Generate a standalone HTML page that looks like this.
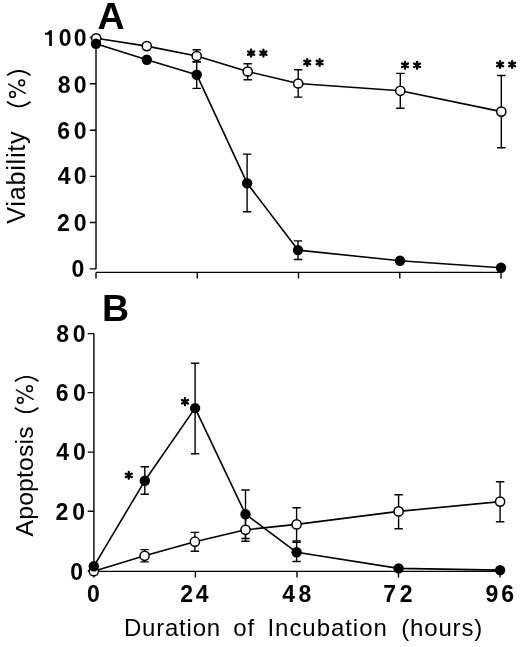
<!DOCTYPE html>
<html><head><meta charset="utf-8"><style>
html,body{margin:0;padding:0;background:#fff;width:520px;height:647px;overflow:hidden;font-family:"Liberation Sans",sans-serif;}
svg{display:block;filter:grayscale(100%)}
</style></head><body>
<svg width="520" height="647" viewBox="0 0 520 647">
<g font-family="Liberation Sans" fill="#000">
<text x="97.55" y="28.78" font-size="37.6" font-weight="bold">A</text>
<text x="102.06" y="321" font-size="37.5" font-weight="bold">B</text>
<path d="M49.2 46.1V34.7H45V32.8C47 32.8 48.8 31.8 49.3 30.2H51.9V46.1Z"/>
<text x="58.69" y="46.12" font-size="23" font-weight="bold" letter-spacing="2.27">00</text>
<text x="57.77" y="93.22" font-size="23" font-weight="bold" letter-spacing="3.19">80</text>
<text x="57.26" y="138.67" font-size="23" font-weight="bold" letter-spacing="3.8">60</text>
<text x="57.75" y="184.47" font-size="23" font-weight="bold" letter-spacing="3.31">40</text>
<text x="57" y="230.92" font-size="23" font-weight="bold" letter-spacing="4.06">20</text>
<text x="71.47" y="277.32" font-size="23" font-weight="bold">0</text>
<text x="56.37" y="341.92" font-size="23" font-weight="bold" letter-spacing="3.49">80</text>
<text x="55.86" y="401.32" font-size="23" font-weight="bold" letter-spacing="4.3">60</text>
<text x="56.35" y="460.32" font-size="23" font-weight="bold" letter-spacing="3.81">40</text>
<text x="55.5" y="520.07" font-size="23" font-weight="bold" letter-spacing="3.96">20</text>
<text x="70.22" y="579.87" font-size="23" font-weight="bold">0</text>
<text x="86.92" y="601.77" font-size="23" font-weight="bold">0</text>
<text x="180.3" y="602.03" font-size="23" font-weight="bold" letter-spacing="2.74">24</text>
<text x="282.15" y="602.17" font-size="23" font-weight="bold" letter-spacing="3.57">48</text>
<text x="383.21" y="602.23" font-size="23" font-weight="bold" letter-spacing="3.83">72</text>
<text x="485.5" y="602.27" font-size="23" font-weight="bold" letter-spacing="2.95">96</text>
<text x="124.03" y="636" font-size="24" letter-spacing="0.77">Duration</text>
<text x="233.19" y="636" font-size="24" letter-spacing="1.06">of</text>
<text x="267.49" y="636" font-size="24" letter-spacing="0.95">Incubation</text>
<text x="401.21" y="636" font-size="24" letter-spacing="0.84">(hours)</text>
<text transform="translate(24.9,223.81) rotate(-90)" font-size="25.2" letter-spacing="0.77">Viability</text>
<text transform="translate(33.2,536.45) rotate(-90)" font-size="24.7" letter-spacing="0.2">Apoptosis</text>
</g>
<g transform="translate(0,0)" fill="none" stroke="#000"><path d="M7.1 75.4Q19 66.6 30.5 75.4M7.1 101.8Q19 110.8 30.5 101.8" stroke-width="1.8"/><path d="M8.1 83.8L25.8 93.7" stroke-width="1.4"/><circle cx="21.7" cy="82.8" r="2.85" stroke-width="1.5"/><circle cx="12.5" cy="94.4" r="2.85" stroke-width="1.5"/></g>
<g transform="translate(7.8,305.9)" fill="none" stroke="#000"><path d="M7.1 75.4Q19 66.6 30.5 75.4M7.1 101.8Q19 110.8 30.5 101.8" stroke-width="1.8"/><path d="M8.1 83.8L25.8 93.7" stroke-width="1.4"/><circle cx="21.7" cy="82.8" r="2.85" stroke-width="1.5"/><circle cx="12.5" cy="94.4" r="2.85" stroke-width="1.5"/></g>
<g fill="none" stroke="#000" stroke-width="1.4">
<path d="M96 37.5V268.9M89.8 37.5H96M89.8 83.7H96M89.8 130.2H96M89.8 176.4H96M89.8 222.5H96M89.8 268.9H96"/>
<path d="M96 272.4H501M96 272.4V278.6M197.3 272.4V278.6M298.5 272.4V278.6M399.8 272.4V278.6M501 272.4V278.6"/>
<path d="M93.9 333.6V571.4M87.7 333.6H93.9M87.7 392.6H93.9M87.7 452.1H93.9M87.7 511.3H93.9M87.7 570.8H93.9"/>
<path d="M93.9 571.4H500.1M93.9 571.4V577.6M195.4 571.4V577.6M297 571.4V577.6M398.5 571.4V577.6M500.1 571.4V577.6"/>
</g>
<g fill="none" stroke="#000" stroke-width="1.4">
<path d="M196.7 49.8V61.7M192.5 49.8H200.9M192.5 61.7H200.9"/><path d="M247.7 63.8V79.7M243.5 63.8H251.9M243.5 79.7H251.9"/><path d="M298.2 69.8V97.1M294 69.8H302.4M294 97.1H302.4"/><path d="M400.3 73.4V108.2M396.1 73.4H404.5M396.1 108.2H404.5"/><path d="M501.3 75.5V147.8M497.1 75.5H505.5M497.1 147.8H505.5"/><path d="M196.7 61.7V88.4M192.5 61.7H200.9M192.5 88.4H200.9"/><path d="M247.1 154.1V211.7M242.9 154.1H251.3M242.9 211.7H251.3"/><path d="M298 240.9V259.5M293.8 240.9H302.2M293.8 259.5H302.2"/><path d="M144.6 549.6V561.9M140.4 549.6H148.8M140.4 561.9H148.8"/><path d="M194.9 532.4V551.2M190.7 532.4H199.1M190.7 551.2H199.1"/><path d="M245.5 516V541.2M241.3 516H249.7M241.3 541.2H249.7"/><path d="M296.6 507.8V541M292.4 507.8H300.8M292.4 541H300.8"/><path d="M398.6 494.7V528.7M394.4 494.7H402.8M394.4 528.7H402.8"/><path d="M500.1 481.7V521.7M495.9 481.7H504.3M495.9 521.7H504.3"/><path d="M144.8 466.7V494.2M140.6 466.7H149M140.6 494.2H149"/><path d="M195.1 363.2V453.8M190.9 363.2H199.3M190.9 453.8H199.3"/><path d="M245.5 490V538.5M241.3 490H249.7M241.3 538.5H249.7"/><path d="M296.6 542.4V561.5M292.4 542.4H300.8M292.4 561.5H300.8"/>
</g>
<g fill="none" stroke="#000" stroke-width="1.6" stroke-linejoin="round">
<polyline points="96.2,38.3 146.8,46.1 196.7,56 247.7,71.5 298.2,83.5 400.3,90.8 501.3,111.6"/><polyline points="96,43.8 146.8,59.8 196.7,74.7 247.1,183.2 298,250.1 400,260.8 501,267.7"/><polyline points="93.8,571.2 144.6,555.8 194.9,541.7 245.5,529.8 296.6,524.4 398.6,511.4 500.1,501.6"/><polyline points="93.8,566.3 144.8,480.8 195.1,408.1 245.5,514.2 296.6,552.3 398.6,568.4 500.1,570.1"/>
</g>
<g fill="#fff" stroke="#000" stroke-width="1.5">
<circle cx="96.2" cy="38.3" r="4.6"/><circle cx="146.8" cy="46.1" r="4.6"/><circle cx="196.7" cy="56" r="4.6"/><circle cx="247.7" cy="71.5" r="4.6"/><circle cx="298.2" cy="83.5" r="4.6"/><circle cx="400.3" cy="90.8" r="4.6"/><circle cx="501.3" cy="111.6" r="4.6"/><circle cx="93.8" cy="571.2" r="4.6"/><circle cx="144.6" cy="555.8" r="4.6"/><circle cx="194.9" cy="541.7" r="4.6"/><circle cx="245.5" cy="529.8" r="4.6"/><circle cx="296.6" cy="524.4" r="4.6"/><circle cx="398.6" cy="511.4" r="4.6"/><circle cx="500.1" cy="501.6" r="4.6"/>
</g>
<g fill="#000">
<circle cx="96" cy="43.8" r="5.2"/><circle cx="146.8" cy="59.8" r="5.2"/><circle cx="196.7" cy="74.7" r="5.2"/><circle cx="247.1" cy="183.2" r="5.2"/><circle cx="298" cy="250.1" r="5.2"/><circle cx="400" cy="260.8" r="5.2"/><circle cx="501" cy="267.7" r="5.2"/><circle cx="93.8" cy="566.3" r="5.2"/><circle cx="144.8" cy="480.8" r="5.2"/><circle cx="195.1" cy="408.1" r="5.2"/><circle cx="245.5" cy="514.2" r="5.2"/><circle cx="296.6" cy="552.3" r="5.2"/><circle cx="398.6" cy="568.4" r="5.2"/><circle cx="500.1" cy="570.1" r="5.2"/>
</g>
<g fill="none" stroke="#000" stroke-width="2.3" stroke-linecap="round">
<path d="M251.1 49.65L251.1 56.55M248.11 51.38L254.09 54.83M254.09 51.38L248.11 54.83"/><circle cx="251.1" cy="53.1" r="1.7" fill="#000" stroke="none"/>
<path d="M263.4 49.65L263.4 56.55M260.41 51.38L266.39 54.83M266.39 51.38L260.41 54.83"/><circle cx="263.4" cy="53.1" r="1.7" fill="#000" stroke="none"/>
<path d="M307.2 59.05L307.2 65.95M304.21 60.77L310.19 64.22M310.19 60.77L304.21 64.22"/><circle cx="307.2" cy="62.5" r="1.7" fill="#000" stroke="none"/>
<path d="M319.6 59.05L319.6 65.95M316.61 60.77L322.59 64.22M322.59 60.77L316.61 64.22"/><circle cx="319.6" cy="62.5" r="1.7" fill="#000" stroke="none"/>
<path d="M405 61.85L405 68.75M402.01 63.57L407.99 67.02M407.99 63.57L402.01 67.02"/><circle cx="405" cy="65.3" r="1.7" fill="#000" stroke="none"/>
<path d="M417.1 61.85L417.1 68.75M414.11 63.57L420.09 67.02M420.09 63.57L414.11 67.02"/><circle cx="417.1" cy="65.3" r="1.7" fill="#000" stroke="none"/>
<path d="M500.1 61.05L500.1 67.95M497.11 62.77L503.09 66.22M503.09 62.77L497.11 66.22"/><circle cx="500.1" cy="64.5" r="1.7" fill="#000" stroke="none"/>
<path d="M512.1 61.05L512.1 67.95M509.11 62.77L515.09 66.22M515.09 62.77L509.11 66.22"/><circle cx="512.1" cy="64.5" r="1.7" fill="#000" stroke="none"/>
<path d="M128.8 471.95L128.8 478.85M125.81 473.67L131.79 477.12M131.79 473.67L125.81 477.12"/><circle cx="128.8" cy="475.4" r="1.7" fill="#000" stroke="none"/>
<path d="M185 398.25L185 405.15M182.01 399.97L187.99 403.43M187.99 399.97L182.01 403.43"/><circle cx="185" cy="401.7" r="1.7" fill="#000" stroke="none"/>
</g>
</svg>
</body></html>
